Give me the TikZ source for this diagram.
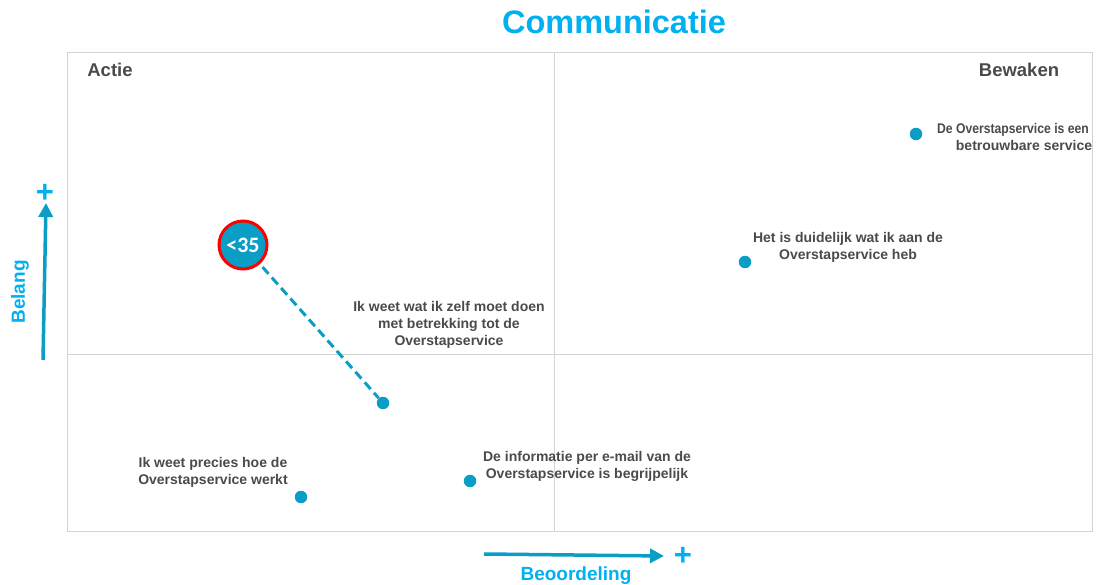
\documentclass[tikz,border=0pt]{standalone}
\usepackage{fontspec}
\setmainfont{Liberation Sans}
\newfontfamily\narrowfont[FakeStretch=0.87]{Liberation Sans}
\newfontfamily\calfont{Carlito}
\usepackage{tikz}
\usetikzlibrary{calc}
\usetikzlibrary{positioning}
\usetikzlibrary{arrows.meta}
\definecolor{dotblue}{HTML}{0A9DC6}
\definecolor{titleblue}{HTML}{00B0F0}
\definecolor{gridgray}{HTML}{D4D4D4}
\definecolor{labelgray}{HTML}{4A4A4A}

\begin{document}
\begin{tikzpicture}[x=1pt,y=-1pt,
grid/.style = {draw=gridgray, line width=1pt},
dot/.style = {shape=circle, fill=dotblue, inner sep=0pt, minimum size=12.5pt},
label/.style = {text=labelgray, align=center, font=\fontsize{14}{17}\selectfont\bfseries},
corner/.style = {text=labelgray, font=\fontsize{18.5}{20}\selectfont\bfseries},
axis/.style = {-{Triangle[length=14pt,width=14pt]}, draw=dotblue, line width=3.5pt},
axislabel/.style = {text=titleblue, font=\fontsize{19}{21}\selectfont\bfseries},
plus/.style = {text=titleblue, font=\fontsize{31}{31}\selectfont\bfseries, inner sep=0pt}
]
\useasboundingbox (0,0) rectangle (1117,585);

% quadrants
\draw [grid] (67,53) rectangle (1092,531);
\draw [grid] (554,53) -- (554,531);
\draw [grid] (67,355) -- (1092,355);

\node (title) at (614,22) {\textcolor{titleblue}{\fontsize{32.5}{33}\selectfont\bfseries Communicatie}};
\node [corner] (actie) at (110,70) {Actie};
\node [corner] (bewaken) at (1019,70) {Bewaken};

% axes
\coordinate (vlow) at (43,360);
\coordinate (vtop) at (46,203);
\draw [axis] (vlow) -- (vtop);
\node [plus] (vplus) at (45,193) {+};
\node [axislabel, rotate=90] (belang) at (20,292) {Belang};

\coordinate (hleft) at (484,554);
\coordinate (hright) at (664,556);
\draw [axis] (hleft) -- (hright);
\node [plus] (hplus) at (683,556) {+};
\node [axislabel] (beoordeling) at (576,576) {Beoordeling};

% items
\node [dot] (betrouwbaar) at (916,134) {};
\node [label] at (1024,137) {{\narrowfont\bfseries De Overstapservice is een}\hspace*{22pt}\\betrouwbare service};

\node [dot] (duidelijk) at (745,262) {};
\node [label] at (848,247) {Het is duidelijk wat ik aan de\\Overstapservice heb};

\node [dot] (zelf) at (383,403) {};
\node [label] at (449,325) {Ik weet wat ik zelf moet doen\\met betrekking tot de\\Overstapservice};

\node [dot] (werkt) at (301,497) {};
\node [label] at (213,472) {Ik weet precies hoe de\\Overstapservice werkt};

\node [dot] (email) at (470,481) {};
\node [label] at (587,466) {De informatie per e-mail van de\\Overstapservice is begrijpelijk};

% age group
\node [shape=circle, fill=dotblue, draw=red, line width=3pt, minimum size=48pt, inner sep=0pt,
  text=white, font=\calfont\fontsize{22}{22}\selectfont\bfseries] (jong) at (243,245) {<35};
\draw [dotblue, line width=3pt, dash pattern=on 9pt off 5pt, shorten <=4pt] (jong) -- (zelf);

\end{tikzpicture}
\end{document}
